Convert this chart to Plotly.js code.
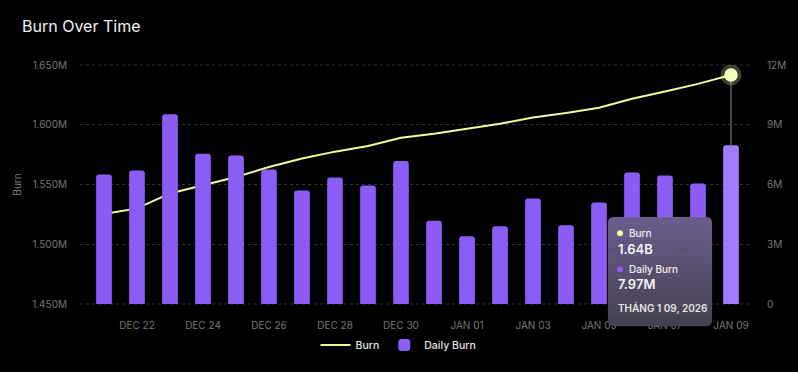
<!DOCTYPE html>
<html>
<head>
<meta charset="utf-8">
<script src="https://cdn.plot.ly/plotly-3.0.1.min.js"></script>
<style>
html,body{margin:0;padding:0;background:#000;}
#chart{width:798px;height:372px;}
</style>
</head>
<body>
<div id="chart"></div>
<script>
// ---- data ----
const dates = ['2025-12-21','2025-12-22','2025-12-23','2025-12-24','2025-12-25','2025-12-26','2025-12-27','2025-12-28','2025-12-29','2025-12-30','2025-12-31','2026-01-01','2026-01-02','2026-01-03','2026-01-04','2026-01-05','2026-01-06','2026-01-07','2026-01-08','2026-01-09'];
const burnM = [1.5254,1.5300,1.5425,1.5492,1.5563,1.5646,1.5717,1.5775,1.5822,1.5892,1.5925,1.5967,1.6008,1.6061,1.6098,1.6142,1.6217,1.6279,1.6342,1.6417];
const dailyBurnM = [6.50,6.70,9.53,7.55,7.45,6.75,5.70,6.35,5.95,7.18,4.18,3.40,3.90,5.30,3.95,5.10,6.60,6.45,6.05,7.97];
const xTickVals = ['2025-12-22','2025-12-24','2025-12-26','2025-12-28','2025-12-30','2026-01-01','2026-01-03','2026-01-05','2026-01-07','2026-01-09'];
const xTickText = ['DEC 22','DEC 24','DEC 26','DEC 28','DEC 30','JAN 01','JAN 03','JAN 05','JAN 07','JAN 09'];
const yTickVals = [1.45,1.50,1.55,1.60,1.65];
const yTickText = ['1.450M','1.500M','1.550M','1.600M','1.650M'];
const y2TickVals = [0,3,6,9,12];
const y2TickText = ['0','3M','6M','9M','12M'];
const tooltipBurn = '1.64B';
const tooltipDaily = '7.97M';
const tooltipDate = 'THÁNG 1 09, 2026';

// ---- styles ----
const FONT = 'Inter, "Noto Sans", sans-serif';
const LINE_COLOR = '#eefc9c';
const BAR_COLOR = '#8b5cf6';
const BAR_HOVER = '#a27bff';
const TICK_COLOR = '#767676';
const GRID_COLOR = '#333333';
const GRID_DASH = '3px,3px';

const M = {l:80, r:46, t:65, b:68};
const W = 798, H = 372;
const PW = W - M.l - M.r, PH = H - M.t - M.b;
const px = v => (v - M.l) / PW;
const py = v => (H - M.b - v) / PH;

const yRange = [1.45, 1.65];
const y2Range = [0, 12];
const last = dates.length - 1;

const barColors = dailyBurnM.map((_, i) => i === last ? BAR_HOVER : BAR_COLOR);

const traces = [
  {
    type:'scatter', mode:'lines', name:'Burn',
    x: dates, y: burnM, yaxis:'y',
    line:{color:LINE_COLOR, width:2},
    hoverinfo:'skip'
  },
  {
    type:'scatter', mode:'markers', showlegend:false,
    x:[dates[last]], y:[burnM[last]], yaxis:'y',
    marker:{size:21, color:'rgba(240,255,150,0.26)'},
    hoverinfo:'skip'
  },
  {
    type:'scatter', mode:'markers', showlegend:false,
    x:[dates[last]], y:[burnM[last]], yaxis:'y',
    marker:{size:12, color:'#f4ffb0', line:{color:'rgba(255,255,240,0.95)', width:1.5}},
    hoverinfo:'skip'
  },
  {
    type:'bar', name:'Daily Burn',
    x: dates, y: dailyBurnM, yaxis:'y2',
    marker:{color: barColors, line:{width:0}},
    hoverinfo:'skip'
  }
];

const barTopOnY = yRange[0] + (dailyBurnM[last] - y2Range[0]) / (y2Range[1]-y2Range[0]) * (yRange[1]-yRange[0]);

const shapes = [
  // edge gridlines (Plotly omits grid at range edges)
  {type:'line', xref:'paper', yref:'paper', x0:0, x1:1, y0:0, y1:0, layer:'below', line:{color:GRID_COLOR, width:1, dash:GRID_DASH}},
  {type:'line', xref:'paper', yref:'paper', x0:0, x1:1, y0:1, y1:1, layer:'below', line:{color:GRID_COLOR, width:1, dash:GRID_DASH}},
  {type:'line', xref:'x', yref:'y', x0:dates[last], x1:dates[last], y0:barTopOnY, y1:burnM[last],
   line:{color:'#8a8a8a', width:1}, layer:'below'}
];

const tb = {x0:608, x1:712, y0:217, y1:326, r:6};
function lerp(a,b,t){return Math.round(a+(b-a)*t);}
const cTop = [108,93,142], cBot = [68,64,78];
function col(t){return 'rgb('+lerp(cTop[0],cBot[0],t)+','+lerp(cTop[1],cBot[1],t)+','+lerp(cTop[2],cBot[2],t)+')';}
function roundedPath(x0,y0,x1,y1,r,topR,botR){
  const P = (a,b) => px(a)+','+py(b);
  let d = '';
  d += 'M' + P(x0 + (topR?r:0), y0);
  d += ' L' + P(x1 - (topR?r:0), y0);
  if(topR) d += ' Q' + P(x1,y0) + ' ' + P(x1,y0+r);
  d += ' L' + P(x1, y1 - (botR?r:0));
  if(botR) d += ' Q' + P(x1,y1) + ' ' + P(x1-r,y1);
  d += ' L' + P(x0 + (botR?r:0), y1);
  if(botR) d += ' Q' + P(x0,y1) + ' ' + P(x0,y1-r);
  d += ' L' + P(x0, y0 + (topR?r:0));
  if(topR) d += ' Q' + P(x0,y0) + ' ' + P(x0+r,y0);
  d += ' Z';
  return d;
}
const N = 14;
const bandH = (tb.y1 - tb.y0) / N;
for(let i=0;i<N;i++){
  const y0 = tb.y0 + i*bandH, y1 = tb.y0 + (i+1)*bandH + (i<N-1?0.6:0);
  shapes.push({type:'path', xref:'paper', yref:'paper', layer:'above',
    path: roundedPath(tb.x0, y0, tb.x1, y1, tb.r, i===0, i===N-1),
    fillcolor: col((i+0.5)/N), line:{width:0}});
}
shapes.push({type:'path', xref:'paper', yref:'paper', layer:'above',
  path: roundedPath(tb.x0, tb.y0, tb.x1, tb.y1, tb.r, true, true),
  fillcolor:'rgba(0,0,0,0)', line:{color:'rgba(255,255,255,0.06)', width:1}});
function dot(cx, cy, r, color){
  return {type:'circle', xref:'paper', yref:'paper', layer:'above',
    x0:px(cx-r), x1:px(cx+r), y0:py(cy+r), y1:py(cy-r), fillcolor:color, line:{width:0}};
}
shapes.push(dot(620,233.3,3,LINE_COLOR));
shapes.push(dot(620,269.3,3,BAR_COLOR));

function ann(text, x, y, size, weight, color){
  return {text:text, xref:'paper', yref:'paper', x:px(x), y:py(y), xanchor:'left', yanchor:'middle',
    showarrow:false, font:{family:FONT, size:size, weight:weight, color:color}};
}
const annotations = [
  ann('Burn', 626.5, 233, 10, 500, '#f2f2f2'),
  ann(tooltipBurn, 615.5, 248.5, 13, 600, '#f5f5f5'),
  ann('Daily Burn', 626.5, 269, 10, 500, '#f2f2f2'),
  ann(tooltipDaily, 615.5, 284, 13, 600, '#f5f5f5'),
  ann(tooltipDate, 615.5, 307.5, 10, 600, '#e6e6e6')
];

const layout = {
  width:W, height:H,
  margin:M,
  paper_bgcolor:'#000', plot_bgcolor:'#000',
  font:{family:FONT, color:TICK_COLOR, size:10},
  title:{text:'Burn Over Time', x:22/W, xanchor:'left', xref:'container', y:1-26/H, yanchor:'middle', yref:'container',
    font:{family:FONT, size:16, color:'#f2f2f2', weight:400}},
  showlegend:true,
  legend:{orientation:'h', x:0.474, xanchor:'center', y:py(345), yanchor:'middle',
    font:{family:FONT, size:10.5, color:'#e6e6e6', weight:500}, bgcolor:'rgba(0,0,0,0)'},
  bargap:0.524,
  barcornerradius:3,
  xaxis:{type:'date', range:['2025-12-20 06:33','2026-01-09 15:16'],
    tickvals:xTickVals, ticktext:xTickText, showgrid:false, zeroline:false, showline:false,
    ticks:'', ticklabelstandoff:14, tickfont:{family:FONT, size:10, color:TICK_COLOR}, fixedrange:true},
  yaxis:{range:yRange, tickvals:yTickVals, ticktext:yTickText,
    showgrid:true, gridcolor:GRID_COLOR, griddash:GRID_DASH, gridwidth:1, zeroline:false, showline:false,
    ticks:'', ticklabelstandoff:12, tickfont:{family:FONT, size:10, color:TICK_COLOR},
    title:{text:'Burn', font:{family:FONT, size:10, color:TICK_COLOR}, standoff:8}},
  yaxis2:{overlaying:'y', side:'right', range:y2Range, tickvals:y2TickVals, ticktext:y2TickText,
    showgrid:false, zeroline:false, showline:false, ticks:'', ticklabelstandoff:14,
    tickfont:{family:FONT, size:10, color:TICK_COLOR}},
  shapes:shapes,
  annotations:annotations,
  hovermode:false
};

Plotly.newPlot('chart', traces, layout, {displayModeBar:false, staticPlot:true});
</script>
</body>
</html>
